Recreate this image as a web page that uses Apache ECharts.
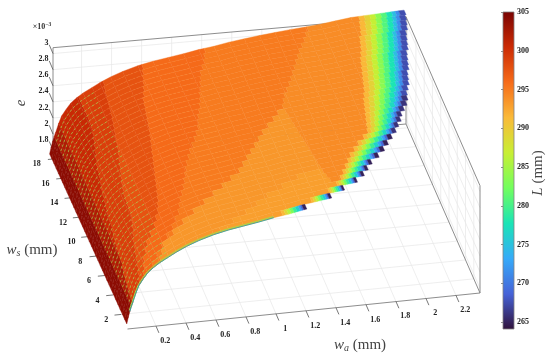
<!DOCTYPE html>
<html><head><meta charset="utf-8">
<style>html,body{margin:0;padding:0;background:#fff}#c{width:550px;height:358px}#c canvas{filter:blur(.35px)}</style>
<script src="https://cdn.jsdelivr.net/npm/echarts@6/dist/echarts.min.js"></script>
</head><body><div id="c"></div>
<script>
// ---- data ----
const waTicks=[0.2,0.4,0.6,0.8,1,1.2,1.4,1.6,1.8,2,2.2];
const wsTicks=[2,4,6,8,10,12,14,16,18];
const eTicks=[1.8,2,2.2,2.4,2.6,2.8,3];
const lTicks=[265,270,275,280,285,290,295,300,305];
const turbo=['#30123b','#4662d7','#36aaf9','#1ae4b6','#72fe5e','#c8ef34','#faba39','#f66b19','#cb2a04','#7a0403'];
// surface height e (x 1e-3) against w_a
const waTable=[0.02,0.03,0.04,0.05,0.06,0.08,0.10,0.13,0.16,0.20,0.24,0.30,0.35,0.42,0.50,0.60,0.70,0.80,0.90,1.00,1.10,1.20,1.30,1.40,1.50,1.60,1.70,1.80,1.90,2.00,2.10,2.20,2.30,2.36];
const eTable=[1.74,1.82,1.89,1.95,2.00,2.11,2.20,2.28,2.35,2.41,2.46,2.52,2.57,2.63,2.685,2.74,2.78,2.81,2.84,2.875,2.90,2.935,2.96,2.985,3.005,3.025,3.04,3.06,3.085,3.11,3.12,3.13,3.14,3.145];
// rows of the surface
const rowWs=[1,1.5,2,2.5,3,3.5,4,4.5,5,5.5,6,6.5,7,7.5,8,8.5,9,9.5,10,10.5,11,11.5,12,12.5,13,13.5,14,14.5,15,15.5,16,16.5,17,17.5,18];
const rowEnd=[1.22,1.40,1.50,1.60,1.66,1.70,1.74,1.80,1.85,1.89,1.93,1.97,2.00,2.03,2.05,2.08,2.11,2.13,2.14,2.16,2.18,2.19,2.20,2.22,2.23,2.24,2.25,2.27,2.28,2.29,2.30,2.32,2.33,2.34,2.35];
const gradStart=[1.06,1.27,1.40,1.47,1.51,1.54,1.57,1.60,1.63,1.67,1.71,1.76,1.80,1.81,1.82,1.83,1.84,1.85,1.86,1.875,1.89,1.90,1.91,1.92,1.93,1.94,1.95,1.965,1.98,1.99,2.00,2.02,2.03,2.04,2.05];
const endL=[265,265,265,265,265,265,265,265,265,265,265,266,266,266,266,266,266,266,267.5,267.5,267.5,267.5,267.5,267.5,267.5,267.5,267.5,267.5,267.5,267.5,267.5,267.5,267.5,267.5,267.5];
const gradFrac=[0,0.12,0.24,0.36,0.48,0.60,0.72,0.80,0.88];
const gradShare=[0,0.09,0.20,0.33,0.45,0.57,0.70,0.84,1];
// band limits in w_a for ws = 1..18
const bandA0=[.06,.065,.07,.08,.085,.09,.10,.105,.115,.125,.14,.15,.17,.19,.205,.21,.21,.21];
const bandA=[.11,.13,.145,.16,.185,.205,.21,.215,.23,.25,.27,.29,.305,.32,.335,.345,.355,.37];
const bandB=[.14,.17,.22,.30,.35,.38,.40,.42,.44,.46,.48,.50,.515,.53,.545,.575,.60,.625];
const bandC=[.20,.29,.39,.46,.50,.55,.59,.63,.68,.74,.79,.82,.86,.89,.92,.95,1.0,1.035];
const bandD=[.25,.30,.46,.63,.78,.92,1.0,1.08,1.16,1.26,1.35,1.39,1.45,1.50,1.55,1.60,1.66,1.71];
const bandG=[.65,.85,1.02,1.25,9,9,9,9,9,9,9,9,9,9,9,9,9,9];
const bandArm=[9,9,1.44,1.42,1.41,1.40,1.39,1.38,1.37,1.36,1.35,1.39,1.45,1.50,1.55,1.60,1.66,1.71];
const bandL=[304,302,300.6,299,297.6,296,295,293.4,292.9,294];

// ---- plot box of the 3-D axes ----
const WA0=0.01,WA1=2.36,WS0=0.5,WS1=18.4,E0=1.74,E1=3.073;
const A=[127.5,329],B=[480,293],C=[406,124],D=[53,155],EK=80.5,SURF_D_X=48.5;
function eAt(w){let i=0;while(i<waTable.length-2&&waTable[i+1]<w)i++;
  const t=(w-waTable[i])/(waTable[i+1]-waTable[i]);return eTable[i]+t*(eTable[i+1]-eTable[i]);}
function P(api,wa,ws,e,dx){const u=(wa-WA0)/(WA1-WA0),v=(ws-WS0)/(WS1-WS0);
  const x=A[0]*(1-u)*(1-v)+B[0]*u*(1-v)+C[0]*u*v+(dx===undefined?D[0]:dx)*(1-u)*v;
  const y=A[1]*(1-u)*(1-v)+B[1]*u*(1-v)+C[1]*u*v+D[1]*(1-u)*v-(e-E0)*EK;
  return api.coord([x,y]);}
function S(api,wa,ws){return P(api,wa,ws,eAt(wa),SURF_D_X);}
function bandAt(list,w){let L=list[0][1];for(const b of list)if(w>=b[0]-1e-9)L=b[1];return L;}
function rowBand(arr,k){const r=Math.floor(k/2);return (k%2&&r+1<arr.length)?(arr[r]+arr[r+1])/2:arr[r];}

const cells=[];
for(let k=rowWs.length-1;k>=0;k--){
  const ws=rowWs[k];
  const brk=[[0,bandL[0]],[.05,bandL[1]],[.08,bandL[2]],[rowBand(bandA0,k),bandL[3]],[rowBand(bandA,k),bandL[4]],[rowBand(bandB,k),bandL[5]],[rowBand(bandC,k),bandL[6]],[rowBand(bandD,k),bandL[7]],[rowBand(bandG,k),bandL[8]],[rowBand(bandArm,k),bandL[9]]];
  const gs=gradStart[k],end=rowEnd[k],w=end-gs;
  let pts=waTable.filter(v=>v<gs);
  brk.forEach(b=>{if(b[0]>.02&&b[0]<gs)pts.push(b[0]);});
  gradFrac.forEach(f=>pts.push(gs+f*w));pts.push(end);
  pts=[...new Set(pts)].sort((a,b)=>a-b);
  for(let i=0;i<pts.length-1;i++){
    const a=pts[i],b=pts[i+1];let L;
    if(a<gs-1e-9)L=bandAt(brk,a);
    else{let s=0;gradFrac.forEach((f,j)=>{if((a-gs)/w>=f-1e-6)s=gradShare[j];});L=291.5-s*(291.5-endL[k]);}
    cells.push([a,b,ws,L]);
  }
}
const H=[]; // [wa0,ws0,e0,wa1,ws1,e1,kind]
waTicks.forEach(w=>{H.push([w,WS0,E0,w,WS1,E0,0],[w,WS1,E0,w,WS1,E1,0]);});
wsTicks.forEach(s=>{H.push([WA0,s,E0,WA1,s,E0,0],[WA1,s,E0,WA1,s,E1,0]);});
eTicks.forEach(e=>{H.push([WA0,WS1,e,WA1,WS1,e,0],[WA1,WS0,e,WA1,WS1,e,0]);});
[[WA0,WS0,E0,WA1,WS0,E0],[WA1,WS0,E0,WA1,WS1,E0],[WA1,WS0,E1,WA1,WS1,E1],[WA0,WS1,E1,WA1,WS1,E1],
 [WA1,WS1,E0,WA1,WS1,E1],[WA1,WS0,E0,WA1,WS0,E1],[WA0,WS1,E0,WA0,WS1,E1],[WA0,WS1,E0,WA1,WS1,E0]].forEach(s=>H.push([...s,1]));
waTicks.forEach(w=>H.push([w,WS0,E0,w,WS0-0.7,E0,2]));
wsTicks.forEach(s=>H.push([WA0,s,E0,WA0-0.045,s,E0,2]));
eTicks.forEach(e=>H.push([WA0,WS1,e,WA0,WS1+0.9,e,2]));

const SERIF='"Liberation Serif",serif';
const sty=[{stroke:'#e6e6e6',lineWidth:.7},{stroke:'#808080',lineWidth:.9},{stroke:'#555',lineWidth:.8}];
function lineSeg(par,api){
  const v=i=>api.value(i);
  const a=P(api,v(0),v(1),v(2)),b=P(api,v(3),v(4),v(5));
  return {type:'line',shape:{x1:a[0],y1:a[1],x2:b[0],y2:b[1]},style:Object.assign({fill:null},sty[v(6)])};
}
function txt(api,x,y,text,o){const c=api.coord([x,y]);
  return Object.assign({type:'text',x:c[0],y:c[1],rotation:o.rot||0,
    style:{text:text,font:o.font||('bold 8.5px '+SERIF),fill:o.fill||'#222',align:o.align||'center',verticalAlign:'middle',rich:o.rich}});}
const tickFont='bold 8px '+SERIF;
const mathRich={i:{fontFamily:SERIF,fontStyle:'italic',fontSize:15,fill:'#444'},sub:{fontFamily:SERIF,fontStyle:'italic',fontSize:10,fill:'#444',verticalAlign:'bottom',padding:[6,0,0,0]},n:{fontFamily:SERIF,fontSize:15,fill:'#444'}};

const option={
  animation:false,
  grid:[{left:0,top:0,width:550,height:358,show:false},{left:503,top:12,width:11,height:317,show:false}],
  xAxis:[{type:'value',min:0,max:550,show:false,gridIndex:0},{type:'value',min:0,max:1,show:false,gridIndex:1}],
  yAxis:[{type:'value',min:0,max:358,inverse:true,show:false,gridIndex:0},
    {type:'value',gridIndex:1,min:264.1,max:305,position:'right',splitLine:{show:false},
     axisLine:{show:false},
     axisTick:{show:true,inside:true,length:2,customValues:lTicks,lineStyle:{color:'#444',width:.6}},
     axisLabel:{customValues:lTicks,margin:3,fontFamily:SERIF,fontSize:8,color:'#222',fontWeight:'bold'}}],
  visualMap:{show:false,type:'continuous',min:264.1,max:305,dimension:3,seriesIndex:1,inRange:{color:turbo}},
  series:[
    {type:'custom',name:'box',coordinateSystem:'cartesian2d',clip:false,silent:true,z:1,data:H,renderItem:lineSeg},
    {type:'custom',name:'L',coordinateSystem:'cartesian2d',clip:false,silent:true,z:2,progressive:0,data:cells,
      dimensions:['wa0','wa1','ws','L'],encode:{x:0,y:2},
      renderItem(par,api){
        const a=api.value(0),b=api.value(1),s=api.value(2),c=api.visual('color');
        return {type:'polygon',shape:{points:[S(api,a,s),S(api,b,s),S(api,b,s+.5),S(api,a,s+.5)]},style:{fill:c,stroke:c,lineWidth:.4}};
      }},
    {type:'custom',name:'rows',coordinateSystem:'cartesian2d',clip:false,silent:true,z:3,data:rowWs.map((s,i)=>[s,i]),
      renderItem(par,api){
        const s=api.value(0);
        const p1=waTable.filter(v=>v>=.05&&v<=.30).map(w=>S(api,w,s));
        const p2=waTable.filter(v=>v>=.30&&v<=.90).map(w=>S(api,w,s));
        const ch=[{type:'polyline',shape:{points:p2},style:{fill:null,stroke:'rgba(255,165,60,.35)',lineWidth:.7,lineDash:[2.5,2]}},
                  {type:'polyline',shape:{points:p1},style:{fill:null,stroke:'rgba(160,215,80,.85)',lineWidth:.8,lineDash:[2.5,2.2]}}];
        return {type:'group',children:ch};
      }},
    {type:'custom',name:'rim',coordinateSystem:'cartesian2d',clip:false,silent:true,z:4,data:[[1.12,0],[1,1]],
      renderItem(par,api){
        const s=api.value(0),j=api.value(1);
        const pts=waTable.filter(v=>v>=.04&&v<=1.06).map(w=>S(api,w,s));
        return {type:'polyline',shape:{points:pts},style:{fill:null,stroke:j?'#2fa7a8':'#a8d84a',lineWidth:j?.9:1}};
      }},
    {type:'custom',name:'tick labels',coordinateSystem:'cartesian2d',clip:false,silent:true,z:5,data:[0],
      renderItem(par,api){
        const ch=[];
        waTicks.forEach(w=>{const c=P(api,w,WS0,E0);ch.push(txt(api,c[0]+9.3,c[1]+14.8,String(w),{font:tickFont}));});
        wsTicks.forEach((s,i)=>{const c=P(api,WA0,s,E0);ch.push(txt(api,c[0]-15-i*.35,c[1]+6-i*.1,String(s),{font:tickFont}));});
        eTicks.forEach(e=>{const c=P(api,WA0,WS1,e);ch.push(txt(api,c[0]-4.5,c[1]-10.5,String(e),{font:tickFont,align:'right'}));});
        ch.push(txt(api,42,27,'{a|×10}{b|−3}',{rich:{a:{fontFamily:SERIF,fontSize:8,fontWeight:'bold',fill:'#333'},b:{fontFamily:SERIF,fontSize:5.5,fontWeight:'bold',fill:'#333',verticalAlign:'top',padding:[0,0,4,0]}}}));
        ch.push(txt(api,21,103,'{i|e}',{rot:Math.PI/2,rich:mathRich}));
        ch.push(txt(api,32,250,'{i|w}{sub|s}{n| (mm)}',{rich:mathRich}));
        ch.push(txt(api,360,345,'{i|w}{sub|a}{n| (mm)}',{rich:mathRich}));
        ch.push(txt(api,538,173,'{i|L}{n| (mm)}',{rot:Math.PI/2,rich:mathRich}));
        return {type:'group',children:ch};
      }},
    {type:'custom',name:'colorbar',coordinateSystem:'cartesian2d',xAxisIndex:1,yAxisIndex:1,clip:false,silent:true,z:1,data:[[0,264.1,1,305]],
      renderItem(par,api){
        const a=api.coord([api.value(0),api.value(1)]),b=api.coord([api.value(2),api.value(3)]);
        const stops=turbo.map((c,i)=>({offset:i/(turbo.length-1),color:c}));
        return {type:'rect',shape:{x:a[0],y:b[1],width:b[0]-a[0],height:a[1]-b[1]},
          style:{fill:new echarts.graphic.LinearGradient(0,1,0,0,stops),stroke:'#808080',lineWidth:.8}};
      }}
  ]
};
echarts.init(document.getElementById('c'),null,{renderer:'canvas'}).setOption(option);
</script></body></html>
